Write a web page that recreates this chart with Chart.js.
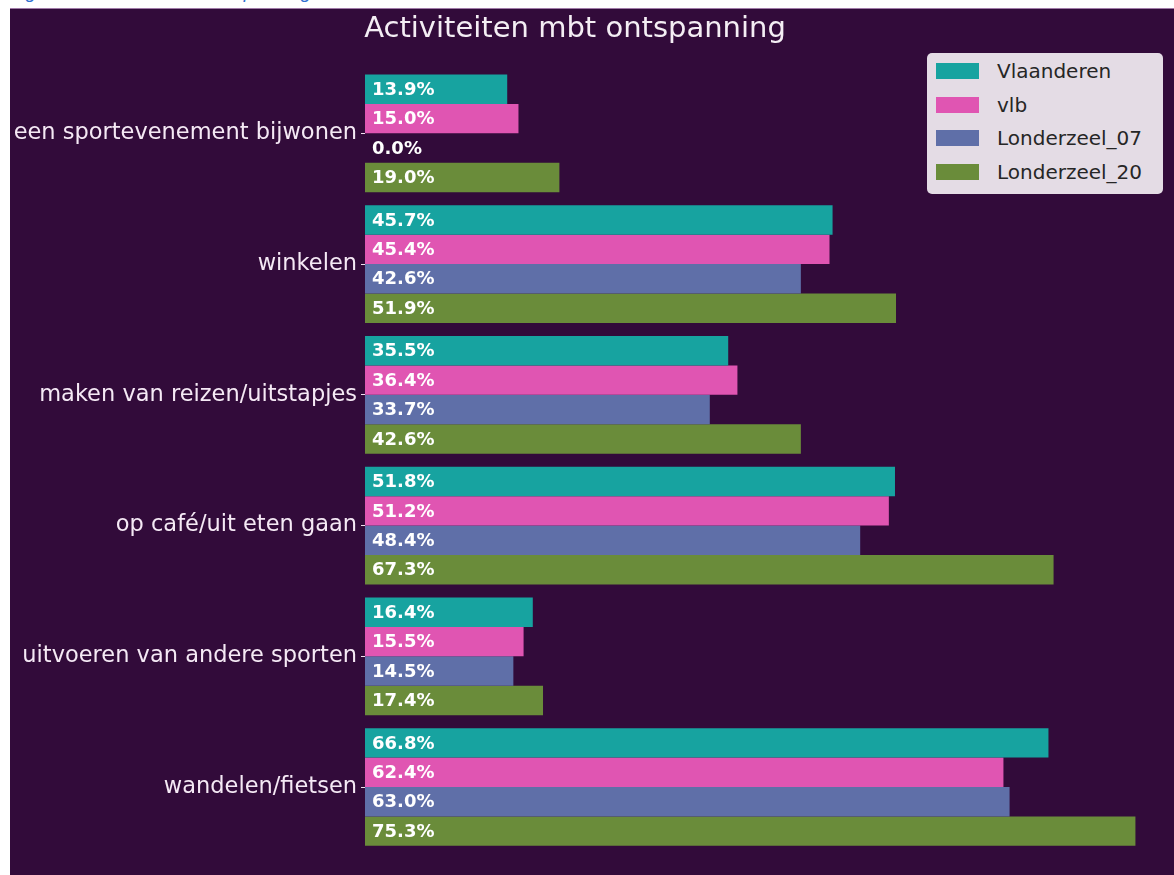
<!DOCTYPE html>
<html>
<head>
<meta charset="utf-8">
<script src="https://cdn.jsdelivr.net/npm/chart.js@4.4.1/dist/chart.umd.min.js"></script>
<style>
  html, body { margin: 0; padding: 0; background: #ffffff; }
  body { width: 1174px; height: 875px; position: relative; overflow: hidden; font-family: "DejaVu Sans", sans-serif; }
  #caption { position: absolute; left: 0; top: 0; width: 1174px; height: 8px; overflow: hidden; background: #fff; }
  #caption span { position: absolute; left: 10px; top: -19px; font-family: "Liberation Sans", sans-serif; font-style: italic; font-size: 19px; color: #2f6fd0; white-space: nowrap; }
  #panel { position: absolute; left: 10px; top: 8px; width: 1164px; height: 867px; background: #320b3a; border-top: 1px solid #a07aa8; box-sizing: border-box; }
  #chart { position: absolute; left: 10px; top: 8px; }
  #title { position: absolute; left: 0; width: 1150px; top: 12.5px; line-height: 29px; text-align: center; font-size: 29px; color: #f4eef4; white-space: nowrap; }
  #legend { position: absolute; left: 927px; top: 53px; width: 236px; height: 141px; background: #e4dce5; border-radius: 5px; }
  .li { position: absolute; left: 0; height: 30px; width: 236px; }
  .sw { position: absolute; left: 9px; top: 7px; width: 43px; height: 16px; }
  .lt { position: absolute; left: 70px; top: 0; line-height: 30px; font-size: 20px; color: #262626; white-space: nowrap; }
</style>
</head>
<body>
<div id="caption"><span>Figuur: Activiteiten mbt ontspanning</span></div>
<div id="panel"></div>
<canvas id="chart" width="1164" height="867"></canvas>
<div id="title">Activiteiten mbt ontspanning</div>
<div id="legend"></div>
<script>
const categories = [
  "een sportevenement bijwonen",
  "winkelen",
  "maken van reizen/uitstapjes",
  "op café/uit eten gaan",
  "uitvoeren van andere sporten",
  "wandelen/fietsen"
];
const seriesNames = ["Vlaanderen", "vlb", "Londerzeel_07", "Londerzeel_20"];
const seriesColors = ["#17a3a0", "#e055b2", "#5f6fa8", "#6a8c3a"];
const vlaanderen   = [13.9, 45.7, 35.5, 51.8, 16.4, 66.8];
const vlb          = [15.0, 45.4, 36.4, 51.2, 15.5, 62.4];
const londerzeel07 = [0.0, 42.6, 33.7, 48.4, 14.5, 63.0];
const londerzeel20 = [19.0, 51.9, 42.6, 67.3, 17.4, 75.3];
const seriesValues = [vlaanderen, vlb, londerzeel07, londerzeel20];
const xMax = 79.07;

const datasets = seriesNames.map((name, i) => ({
  label: name,
  data: seriesValues[i],
  backgroundColor: seriesColors[i],
  borderWidth: 0,
  barPercentage: 1.0,
  categoryPercentage: 0.9
}));

const valueLabels = {
  id: 'valueLabels',
  afterDatasetsDraw(chart) {
    const ctx = chart.ctx;
    ctx.save();
    ctx.font = 'bold 18px "DejaVu Sans"';
    ctx.fillStyle = '#ffffff';
    ctx.textBaseline = 'middle';
    ctx.textAlign = 'left';
    chart.data.datasets.forEach((ds, i) => {
      const meta = chart.getDatasetMeta(i);
      meta.data.forEach((bar, j) => {
        ctx.fillText(ds.data[j].toFixed(1) + '%', chart.chartArea.left + 7, bar.y + 1);
      });
    });
    ctx.restore();
  }
};

new Chart(document.getElementById('chart'), {
  type: 'bar',
  data: { labels: categories, datasets },
  options: {
    responsive: false,
    animation: false,
    indexAxis: 'y',
    layout: { padding: { top: 60, bottom: 22.6, left: 0, right: 0 } },
    plugins: { legend: { display: false }, title: { display: false }, tooltip: { enabled: false } },
    scales: {
      x: { display: false, min: 0, max: xMax },
      y: {
        afterFit(scale) { scale.width = 355; },
        border: { display: false },
        grid: { display: true, drawOnChartArea: false, drawTicks: true, tickLength: 4, offset: false, color: '#efe3ef', lineWidth: 1 },
        ticks: { color: '#f5e9f5', font: { family: 'DejaVu Sans', size: 22.5 }, padding: 4 }
      }
    }
  },
  plugins: [valueLabels]
});

const legend = document.getElementById('legend');
seriesNames.forEach((name, i) => {
  const item = document.createElement('div');
  item.className = 'li';
  item.style.top = (3 + i * 33.7) + 'px';
  const sw = document.createElement('div');
  sw.className = 'sw';
  sw.style.background = seriesColors[i];
  const t = document.createElement('div');
  t.className = 'lt';
  t.textContent = name;
  item.appendChild(sw);
  item.appendChild(t);
  legend.appendChild(item);
});
</script>
</body>
</html>
